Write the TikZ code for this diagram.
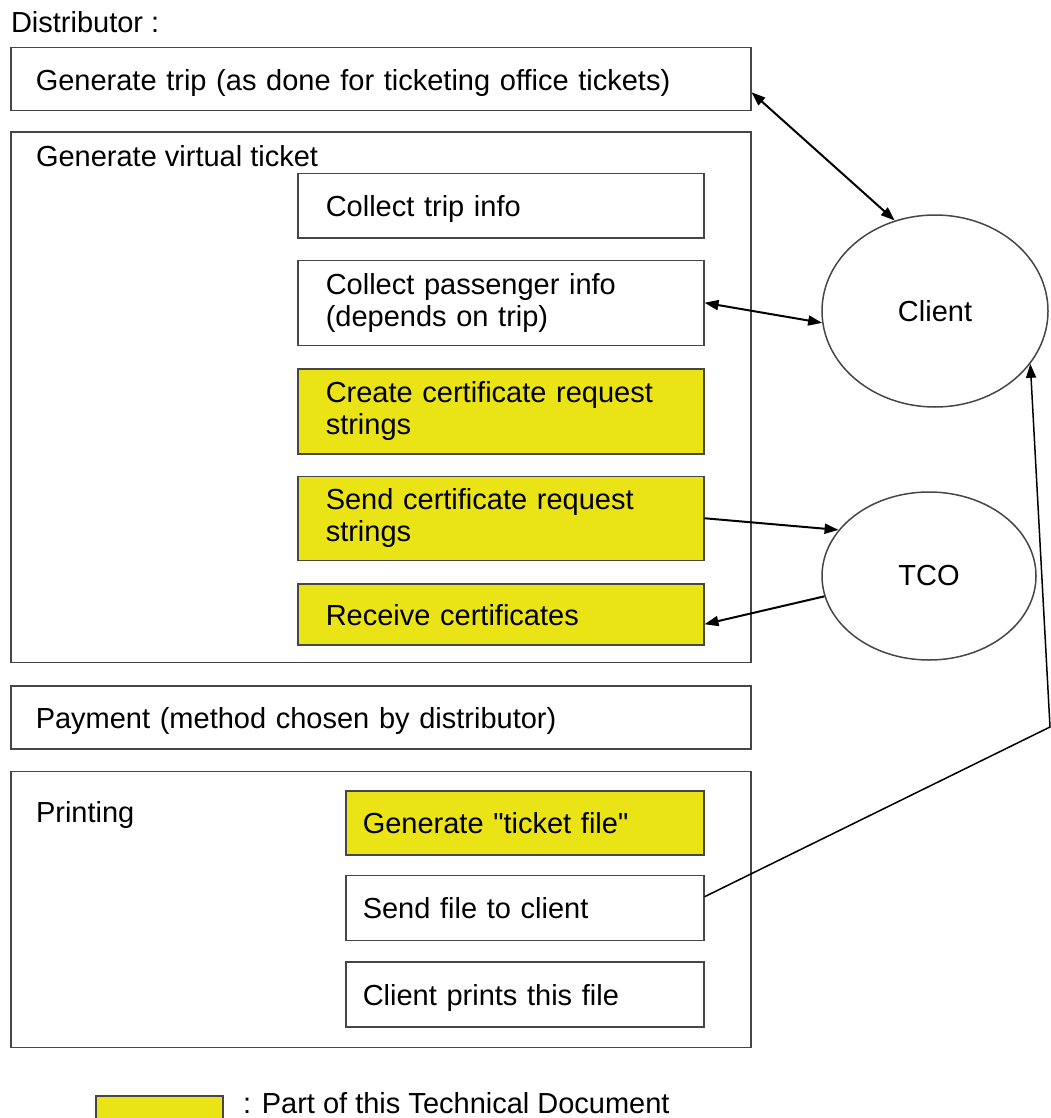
\documentclass[tikz,border=0pt]{standalone}
\usepackage{fontspec}
\setmainfont{Liberation Sans}
\usepackage{tikz}
\usetikzlibrary{shapes,arrows.meta,calc,positioning}
\definecolor{partyellow}{RGB}{234,228,22}
\definecolor{boxgray}{RGB}{70,70,70}
\tikzset{
    -{Triangle[length=14pt,width=10pt]},auto,node distance =21pt and 21pt,
    box/.style ={rectangle, draw=boxgray, line width=1.5pt, inner ysep=4pt, align=left},
    part/.style ={box, fill=partyellow},
    wide/.style ={minimum width=740pt, text width=690pt, inner xsep=25pt},
    inner/.style ={minimum width=406pt, text width=350pt, inner xsep=28pt},
    narrow/.style ={minimum width=358pt, text width=324pt, inner xsep=17pt},
    oneline/.style ={text height=28pt, text depth=6pt},
    actor/.style ={ellipse, draw=boxgray, line width=1.5pt},
    lbl/.style ={anchor=base west, inner sep=0pt},
    bidirected/.style={{Triangle[length=14pt,width=10pt]}-{Triangle[length=14pt,width=10pt]}}
}

\begin{document}
\begin{tikzpicture}[x=1pt,y=-1pt,line width=2pt,font=\fontsize{29}{32}\selectfont]
    \path[use as bounding box] (0,0) rectangle (1050,1118);

    % Distributor side
    \node[lbl] (distlbl) at (10,33) {Distributor :};
    \node[box, wide, oneline, minimum height=63pt, anchor=north west] (trip) at (10,47) {Generate trip (as done for ticketing office tickets)};
    \node[box, wide, minimum height=530pt, below=20pt of trip] (virtual) {};
    \node[lbl] (virtuallbl) at (35,167) {Generate virtual ticket};
    \node[box, inner, oneline, minimum height=64pt, anchor=north west] (tripinfo) at (297,173) {Collect trip info};
    \node[box, inner, minimum height=85pt, below =of tripinfo] (passenger) {Collect passenger info\\(depends on trip)};
    \node[part, inner, minimum height=85pt, below=22pt of passenger] (createreq) {Create certificate request\\strings};
    \node[part, inner, minimum height=84pt, below =of createreq] (sendreq) {Send certificate request\\strings};
    \node[part, inner, oneline, minimum height=61pt, below=22pt of sendreq] (receive) {Receive certificates};
    \node[box, wide, oneline, minimum height=63pt, below=22pt of virtual] (payment) {Payment (method chosen by distributor)};
    \node[box, wide, minimum height=276pt, below =of payment] (printing) {};
    \node[lbl] (printinglbl) at (35,822) {Printing};
    \node[part, narrow, oneline, minimum height=64pt, anchor=north west] (ticketfile) at (345,790) {Generate \textquotedbl ticket file\textquotedbl};
    \node[box, narrow, oneline, minimum height=65pt, below=19pt of ticketfile] (sendfile) {Send file to client};
    \node[box, narrow, oneline, minimum height=65pt, below=20pt of sendfile] (prints) {Client prints this file};

    % Other parties
    \node[actor, minimum width=226pt, minimum height=192pt] (client) at (935,311) {Client};
    \node[actor, minimum width=214pt, minimum height=168pt] (tco) at (929,576) {TCO};
    \coordinate (bend) at (1050,727);

    % Legend
    \node[part, minimum width=127pt, minimum height=32pt, anchor=north west] (legendbox) at (95,1095) {};
    \node[lbl] (legendlbl) at (242,1113) {: Part of this Technical Document};

    % Connectors
    \path[bidirected] ([yshift=-13pt]trip.east) edge (client.114);
    \path[bidirected] (passenger.east) edge (client.186);
    \path (sendreq.east) edge (tco.153);
    \path (tco.191) edge ([yshift=-10pt]receive.east);
    \draw[line width=1.5pt] ([yshift=11pt]sendfile.east) -- (bend) -- (client.-29);
\end{tikzpicture}
\end{document}
